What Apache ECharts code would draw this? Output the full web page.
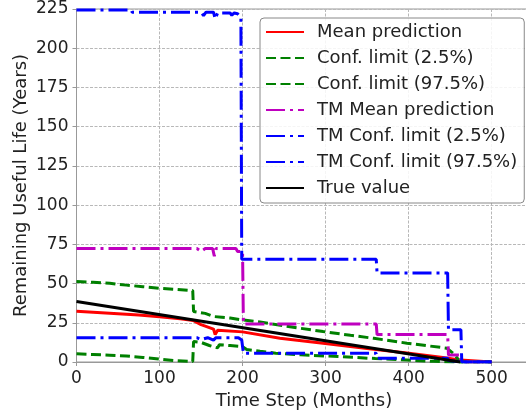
<!DOCTYPE html>
<html>
<head>
<meta charset="utf-8">
<script src="https://cdn.jsdelivr.net/npm/echarts@6/dist/echarts.min.js"></script>
<style>
  html, body { margin: 0; padding: 0; background: #fff; }
  #chart { width: 526px; height: 412px; }
</style>
</head>
<body>
<div id="chart"></div>
<script>
// [time step (months), remaining useful life (years)]
var meanPred = [[0,32.3],[25,31.6],[50,30.8],[75,29.9],[100,28.9],[125,27.6],[141,26.4],[150,23.8],
    [165,21],[167,17.5],[170,20.3],[200,19.2],[245,15.2],[297,12],[350,8.6],[398,5.7],[446,2.6],
    [462,1.2],[464,0],[500,0]];
var confLow = [[0,5.2],[20,4.8],[40,4.3],[60,3.8],[80,2.9],[100,1.8],[120,0.8],[140,0.3],[141,13],
    [150,12.5],[160,10.5],[170,9],[172,11],[185,10.5],[200,9.8],[205,8],[221,6.8],[240,5.6],[270,4.6],
    [317,3.4],[360,2.2],[398,1.3],[430,0.4],[455,0],[500,0]];
var confHigh = [[0,51.3],[20,50.8],[40,50.2],[60,49],[80,48],[100,47],[120,46.3],[140,45.5],[141,32.2],
    [155,31],[165,29],[175,28.5],[185,28],[200,26.8],[221,25.5],[250,23],[297,19.4],[330,17],[358,15.1],
    [398,12],[446,8.8],[455,5],[462,0],[500,0]];
var tmMean = [[0,72.3],[145,72.3],[150,70.5],[155,72.3],[164,72.3],[166,67.5],[168,72.3],[192,72.3],
    [194,70.5],[200,70.5],[201,24.3],[361,24.3],[362,17.5],[447,17.5],[448,4.5],[462,4.5],[463,0],[500,0]];
var tmLow = [[0,15.5],[145,15.5],[150,14.3],[158,15.5],[165,14],[168,15.5],[195,15.5],[199,14],
    [201,5.6],[361,5.6],[362,2.4],[447,2.4],[448,1],[463,0],[500,0]];
var tmHigh = [[0,224.4],[66,224.4],[67,223],[150,223],[153,220.8],[156,223],[165,223],[167,218.7],
    [170,222.5],[185,222.5],[187,221],[190,222.5],[194,222],[198,219.5],[199,65.5],[361,65.5],
    [362,56.8],[447,56.8],[448,20.5],[463,20.5],[464,0],[500,0]];
var trueVal = [[0,38.5],[462,0]];

var names = ['Mean prediction', 'Conf. limit (2.5%)', 'Conf. limit (97.5%)', 'TM Mean prediction',
    'TM Conf. limit (2.5%)', 'TM Conf. limit (97.5%)', 'True value'];

var chart = echarts.init(document.getElementById('chart'));
var font = 'DejaVu Sans';
var dashed = [10, 4.5];
var dashDot = [19, 5, 3, 5];

function line(name, data, color, type) {
    return {
        name: name,
        type: 'line',
        data: data,
        symbol: 'none',
        animation: false,
        lineStyle: { color: color, width: 3, type: type },
        itemStyle: { color: color }
    };
}

var option = {
    backgroundColor: '#fff',
    animation: false,
    grid: {
        left: 76.5, right: -5.5, top: 9, bottom: 50,
        outerBoundsMode: 'none',
        show: true, borderColor: '#999', borderWidth: 1
    },
    legend: {
        data: names,
        orient: 'vertical',
        left: 260, top: 18,
        itemWidth: 38, itemHeight: 10, itemGap: 6,
        padding: [4, 7, 5, 5],
        backgroundColor: 'rgba(255,255,255,0.85)',
        borderColor: '#888', borderWidth: 1, borderRadius: 4,
        itemStyle: { opacity: 0 },
        textStyle: { fontFamily: font, fontSize: 18, color: '#222', lineHeight: 20, padding: [0, 0, 0, 8] }
    },
    xAxis: {
        type: 'value',
        min: 0, max: 548, interval: 100,
        name: 'Time Step (Months)',
        nameLocation: 'middle', nameGap: 29,
        nameTextStyle: { fontFamily: font, fontSize: 18, color: '#222' },
        axisLine: { lineStyle: { color: '#999' } },
        axisTick: { inside: false, length: 4, lineStyle: { color: '#999' } },
        axisLabel: { fontFamily: font, fontSize: 17, color: '#222', margin: 8, showMaxLabel: false },
        splitLine: { show: true, lineStyle: { color: '#b8b8b8', type: [3, 1.5] } }
    },
    yAxis: {
        type: 'value',
        min: 0, max: 225, interval: 25,
        name: 'Remaining Useful Life (Years)',
        nameLocation: 'middle', nameGap: 46, nameMoveOverlap: false,
        nameTextStyle: { fontFamily: font, fontSize: 18, color: '#222' },
        axisLine: { show: true, lineStyle: { color: '#999' } },
        axisTick: { show: true, inside: false, length: 4, lineStyle: { color: '#999' } },
        axisLabel: { fontFamily: font, fontSize: 17, color: '#222', margin: 8 },
        splitLine: { show: true, lineStyle: { color: '#b8b8b8', type: [3, 1.5] } }
    },
    series: [
        line(names[0], meanPred, '#ff0000', 'solid'),
        line(names[1], confLow, '#008000', dashed),
        line(names[2], confHigh, '#008000', dashed),
        line(names[3], tmMean, '#bf00bf', dashDot),
        line(names[4], tmLow, '#0000ff', dashDot),
        line(names[5], tmHigh, '#0000ff', dashDot),
        line(names[6], trueVal, '#000000', 'solid')
    ]
};
chart.setOption(option);
</script>
</body>
</html>
